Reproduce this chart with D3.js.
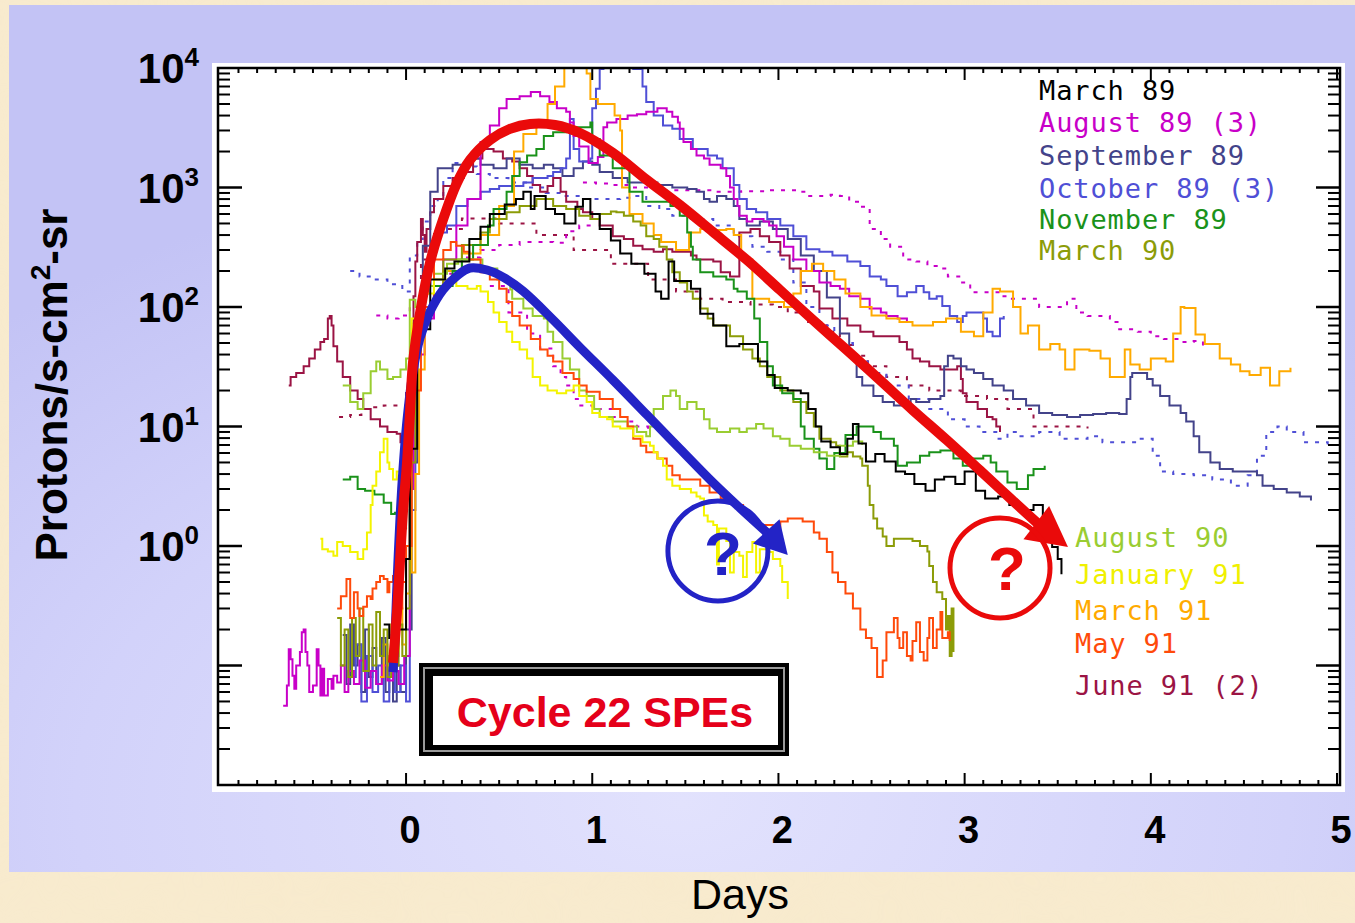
<!DOCTYPE html>
<html><head><meta charset="utf-8">
<script src="https://cdn.jsdelivr.net/npm/d3@7"></script>
<style>html,body{margin:0;padding:0;background:#f6e7c9;overflow:hidden} svg{display:block}</style>
</head><body>
<svg id="chart" width="1355" height="923"></svg>
<script>
// ---------------- DATA ----------------
const xTickLabels = ["0","1","2","3","4","5"];
const yTickExponents = [0,1,2,3,4];
const legendTop = ["March 89","August 89 (3)","September 89","October 89 (3)","November 89","March 90"];
const legendBottom = ["August 90","January 91","March 91","May 91","June 91 (2)"];

const march89 = [[-0.12,0.22],[-0.09,0.17],[-0.04,0.2],[0.0,0.78],[0.02,6.5],[0.06,65],[0.13,170],[0.21,210],[0.26,240],[0.34,370],[0.40,470],[0.45,600],[0.53,720],[0.59,800],[0.63,920],[0.67,660],[0.69,850],[0.75,660],[0.80,600],[0.85,500],[0.91,690],[0.95,800],[0.99,600],[1.04,450],[1.10,360],[1.15,280],[1.21,230],[1.28,190],[1.34,135],[1.37,117],[1.41,240],[1.44,165],[1.53,142],[1.58,88],[1.65,70],[1.72,47],[1.79,49],[1.89,35],[1.94,27],[1.98,21],[2.05,20],[2.12,19],[2.16,14],[2.20,10],[2.23,7.5],[2.28,6.7],[2.33,5.9],[2.37,7.9],[2.40,10.5],[2.43,7.2],[2.47,5.1],[2.52,5.9],[2.57,5.1],[2.63,4.2],[2.68,4.0],[2.73,3.3],[2.79,2.9],[2.84,3.6],[2.89,3.8],[2.95,3.3],[3.0,4.2],[3.06,2.9],[3.11,2.5],[3.18,2.6],[3.24,2.2],[3.30,2.0],[3.37,2.2],[3.42,1.6],[3.45,1.25],[3.47,0.98],[3.50,0.78],[3.52,0.58]];

const august89 = [[-0.66,0.046],[-0.64,0.068],[-0.63,0.137],[-0.62,0.113],[-0.61,0.082],[-0.60,0.064],[-0.59,0.1],[-0.57,0.13],[-0.56,0.19],[-0.55,0.2],[-0.54,0.13],[-0.53,0.1],[-0.52,0.06],[-0.50,0.068],[-0.48,0.137],[-0.47,0.1],[-0.46,0.056],[-0.45,0.094],[-0.44,0.056],[-0.42,0.077],[-0.40,0.064],[-0.39,0.082],[-0.37,0.072],[-0.35,0.1],[-0.33,0.06],[-0.31,0.09],[-0.28,0.07],[-0.25,0.11],[-0.22,0.065],[-0.19,0.09],[-0.16,0.07],[-0.13,0.1],[-0.1,0.075],[-0.07,0.09],[-0.04,0.07],[-0.01,0.12],[0.02,3],[0.04,20],[0.06,40],[0.1,80],[0.15,150],[0.2,250],[0.27,480],[0.33,800],[0.40,2400],[0.45,3300],[0.50,4600],[0.54,5500],[0.61,5800],[0.67,6300],[0.72,5800],[0.77,5200],[0.81,4600],[0.86,4300],[0.88,3500],[0.90,2700],[0.93,2200],[0.98,1600],[1.03,1800],[1.06,3200],[1.08,3500],[1.13,3750],[1.19,4000],[1.24,4100],[1.29,4300],[1.35,4600],[1.40,4300],[1.43,3900],[1.46,3500],[1.47,3100],[1.49,2400],[1.53,2100],[1.56,1850],[1.60,1750],[1.63,1550],[1.69,1450],[1.72,1250],[1.74,1000],[1.76,800],[1.78,700],[1.79,580],[1.83,520],[1.86,545],[1.92,520],[1.95,480],[1.99,390],[2.03,320],[2.08,250],[2.15,200],[2.22,160],[2.28,150],[2.33,142],[2.38,123],[2.44,117],[2.49,97],[2.55,90],[2.58,84],[2.64,80],[2.69,75]];

const september89 = [[-0.34,0.18],[-0.32,0.07],[-0.3,0.22],[-0.28,0.1],[-0.26,0.15],[-0.24,0.06],[-0.22,0.2],[-0.2,0.08],[-0.18,0.14],[-0.16,0.07],[-0.13,0.17],[-0.11,0.06],[-0.09,0.12],[-0.07,0.05],[-0.05,0.1],[-0.03,0.06],[0.0,0.2],[0.03,5],[0.06,100],[0.09,325],[0.13,920],[0.17,1450],[0.25,1550],[0.33,1750],[0.40,1550],[0.47,1450],[0.54,1750],[0.61,1550],[0.68,1450],[0.74,1550],[0.79,1450],[0.84,1250],[0.90,1450],[0.95,1650],[1.0,1550],[1.04,1350],[1.11,1200],[1.19,1100],[1.26,1100],[1.35,1050],[1.43,1000],[1.51,970],[1.56,920],[1.60,800],[1.63,760],[1.67,850],[1.72,800],[1.76,700],[1.79,545],[1.83,480],[1.90,520],[1.97,450],[2.05,370],[2.12,270],[2.19,200],[2.26,120],[2.33,60],[2.38,40],[2.42,26],[2.45,22],[2.51,18],[2.56,16],[2.62,15],[2.67,15],[2.71,17],[2.74,16],[2.81,17],[2.87,18],[2.89,32],[2.91,39],[2.94,37],[2.98,32],[3.01,30],[3.05,28],[3.10,25],[3.15,22],[3.21,20],[3.26,17],[3.33,15],[3.40,13],[3.47,12.5],[3.55,12],[3.62,12.5],[3.69,12.7],[3.76,13],[3.83,12.7],[3.87,17],[3.89,26],[3.90,28],[3.94,28],[3.98,25],[4.01,22],[4.05,18],[4.10,15],[4.16,13],[4.19,11],[4.23,8.3],[4.26,6.1],[4.32,5.0],[4.37,4.4],[4.44,4.2],[4.52,4.2],[4.57,3.9],[4.60,3.2],[4.66,3.0],[4.73,2.8],[4.80,2.6],[4.86,2.4]];

const october89 = [[-0.3,0.08],[-0.27,0.15],[-0.24,0.05],[-0.21,0.12],[-0.18,0.06],[-0.15,0.1],[-0.12,0.05],[-0.09,0.09],[-0.06,0.06],[-0.03,0.1],[0.0,0.05],[0.02,2],[0.05,40],[0.08,150],[0.13,325],[0.17,420],[0.22,480],[0.27,700],[0.33,800],[0.40,920],[0.45,970],[0.50,1030],[0.57,1030],[0.63,1100],[0.68,1200],[0.76,1250],[0.79,1350],[0.83,1450],[0.86,1750],[0.88,3750],[0.90,2100],[0.93,1650],[0.97,1650],[0.99,1750],[1.0,4600],[1.02,6700],[1.04,9800],[1.06,14000],[1.15,15000],[1.21,12000],[1.22,9800],[1.27,7000],[1.29,5200],[1.33,4000],[1.38,3300],[1.43,3100],[1.47,2550],[1.54,2100],[1.62,1850],[1.67,1750],[1.70,1450],[1.76,1050],[1.79,800],[1.83,660],[1.88,620],[1.94,545],[2.01,480],[2.08,390],[2.15,305],[2.22,290],[2.29,270],[2.37,240],[2.44,220],[2.49,180],[2.55,170],[2.58,150],[2.64,123],[2.69,133],[2.74,150],[2.78,133],[2.81,117],[2.85,123],[2.88,102],[2.92,84],[2.96,75],[2.99,84],[3.01,90],[3.07,90],[3.10,80],[3.12,62],[3.15,57],[3.19,80],[3.21,84]];

const november89 = [[-0.34,3.6],[-0.3,3.8],[-0.26,3.0],[-0.22,2.9],[-0.17,2.7],[-0.12,2.3],[-0.08,1.85],[-0.06,1.9],[-0.03,1.4],[0.0,3],[0.03,40],[0.08,100],[0.15,150],[0.25,200],[0.30,250],[0.36,330],[0.44,480],[0.47,660],[0.54,920],[0.57,1250],[0.61,1630],[0.65,1850],[0.70,2100],[0.74,2700],[0.79,2900],[0.86,3200],[0.90,3200],[0.99,3500],[1.0,2550],[1.04,1850],[1.11,1450],[1.20,920],[1.27,760],[1.35,760],[1.42,700],[1.47,580],[1.51,420],[1.53,320],[1.54,250],[1.58,195],[1.65,180],[1.72,170],[1.76,142],[1.78,135],[1.83,117],[1.87,80],[1.90,51],[1.94,32],[1.97,22],[2.02,19],[2.08,17],[2.12,10],[2.14,7.9],[2.19,6.5],[2.22,5.4],[2.26,4.4],[2.30,6],[2.36,8.5],[2.42,10],[2.45,10],[2.51,9],[2.55,7.9],[2.62,6.9],[2.64,4.7],[2.69,5.0],[2.76,5.7],[2.81,6.1],[2.87,6.3],[2.94,5.4],[2.99,4.7],[3.05,5.4],[3.10,5.7],[3.14,5.0],[3.17,4.2],[3.23,3.4],[3.28,3.0],[3.31,3.0],[3.34,3.9],[3.37,4.4],[3.43,4.7]];

const march90 = [[-0.37,0.25],[-0.35,0.1],[-0.33,0.2],[-0.31,0.08],[-0.29,0.25],[-0.27,0.12],[-0.25,0.3],[-0.23,0.09],[-0.2,0.22],[-0.18,0.1],[-0.16,0.28],[-0.14,0.12],[-0.12,0.2],[-0.1,0.08],[-0.08,0.18],[-0.06,0.1],[-0.04,0.22],[-0.02,0.12],[0.0,0.3],[0.02,5],[0.05,60],[0.1,150],[0.2,250],[0.3,330],[0.40,420],[0.45,545],[0.54,620],[0.61,700],[0.70,800],[0.79,700],[0.86,660],[0.93,580],[0.99,545],[1.04,600],[1.10,630],[1.13,620],[1.17,580],[1.22,520],[1.26,480],[1.29,390],[1.33,370],[1.36,320],[1.40,250],[1.43,195],[1.47,160],[1.51,135],[1.54,117],[1.58,97],[1.62,80],[1.65,70],[1.74,57],[1.81,44],[1.86,37],[1.90,32],[1.94,26],[2.01,20],[2.08,16],[2.15,13],[2.19,10],[2.22,7.9],[2.28,7.4],[2.31,6.9],[2.33,5.6],[2.37,6.1],[2.40,5.6],[2.44,5.4],[2.45,4.7],[2.48,3.2],[2.49,2.2],[2.51,1.7],[2.53,1.4],[2.56,1.2],[2.58,1.0],[2.62,1.15],[2.67,1.15],[2.72,1.1],[2.76,1.0],[2.80,0.9],[2.81,0.68],[2.83,0.5],[2.85,0.41],[2.88,0.36],[2.90,0.2],[2.91,0.26],[2.92,0.12],[2.93,0.3],[2.94,0.13]];

const august90 = [[-0.34,22],[-0.30,16],[-0.26,14],[-0.23,19],[-0.19,29],[-0.16,35],[-0.14,30],[-0.10,25],[-0.07,26],[-0.03,30],[0.0,37],[0.02,115],[0.05,100],[0.1,150],[0.15,190],[0.22,230],[0.28,250],[0.34,250],[0.41,210],[0.49,170],[0.56,140],[0.57,117],[0.63,97],[0.68,84],[0.74,80],[0.76,62],[0.79,51],[0.84,37],[0.88,30],[0.93,20],[0.97,18],[1.01,14],[1.04,12],[1.11,11],[1.19,10],[1.24,9],[1.29,8.3],[1.31,10],[1.33,14],[1.38,18],[1.42,20],[1.45,18],[1.47,14],[1.51,16],[1.56,14],[1.60,11.5],[1.63,9.6],[1.67,9],[1.74,9.6],[1.79,9],[1.83,9.6],[1.88,10.5],[1.92,9.6],[1.97,8.3],[2.01,7.9],[2.06,6.9],[2.12,6.5],[2.19,6.1],[2.26,5.7],[2.33,6.9],[2.40,7.5],[2.45,7]];

const january91 = [[-0.46,1.15],[-0.45,0.94],[-0.42,0.9],[-0.39,0.83],[-0.37,1.08],[-0.34,1.0],[-0.30,0.89],[-0.26,0.78],[-0.23,0.94],[-0.21,1.3],[-0.19,2.2],[-0.18,3.2],[-0.16,4.2],[-0.14,6.1],[-0.12,7.9],[-0.10,5.0],[-0.09,4.4],[-0.07,3.6],[-0.05,4.2],[-0.02,2.5],[0.0,17],[0.03,80],[0.08,130],[0.15,170],[0.22,160],[0.27,150],[0.33,142],[0.38,150],[0.40,135],[0.44,110],[0.47,90],[0.50,75],[0.54,62],[0.57,51],[0.61,44],[0.65,37],[0.68,26],[0.72,22],[0.76,20],[0.81,19],[0.86,20],[0.90,22],[0.93,18],[0.97,16],[1.0,13],[1.04,12],[1.08,11.5],[1.11,10],[1.15,9.6],[1.19,9.6],[1.22,8.3],[1.27,7.4],[1.31,6.9],[1.33,6.1],[1.35,5.4],[1.38,4.7],[1.40,3.6],[1.43,3.2],[1.47,3.0],[1.53,2.8],[1.56,2.6],[1.58,2.5],[1.60,1.8],[1.62,1.6],[1.65,1.5],[1.67,0.7],[1.68,1.4],[1.72,1.1],[1.74,0.6],[1.76,0.89],[1.79,0.83],[1.81,0.55],[1.83,0.89],[1.86,1.08],[1.88,0.6],[1.90,0.94],[1.94,0.89],[1.97,0.78],[2.01,0.68],[2.02,0.5],[2.05,0.36]];

const march91 = [[-0.14,0.08],[-0.12,0.15],[-0.1,0.1],[-0.08,0.22],[-0.06,0.12],[-0.04,0.3],[-0.02,0.15],[0.0,0.4],[0.02,3],[0.03,0.6],[0.05,4],[0.07,30],[0.1,100],[0.15,150],[0.2,200],[0.3,280],[0.4,400],[0.5,700],[0.58,2000],[0.63,2800],[0.70,3500],[0.76,5000],[0.80,7000],[0.85,12000],[0.95,15000],[0.97,9000],[0.99,5500],[1.03,5000],[1.08,5000],[1.12,4000],[1.15,3000],[1.16,1000],[1.2,600],[1.27,500],[1.33,400],[1.37,350],[1.45,300],[1.52,420],[1.58,450],[1.65,440],[1.72,450],[1.76,400],[1.80,250],[1.86,117],[1.95,110],[2.03,100],[2.08,130],[2.12,200],[2.18,230],[2.24,200],[2.3,170],[2.36,130],[2.44,100],[2.5,85],[2.58,80],[2.65,75],[2.72,70],[2.83,75],[2.90,80],[2.98,62],[3.05,57],[3.10,90],[3.15,142],[3.19,135],[3.26,100],[3.30,60],[3.34,70],[3.40,44],[3.46,49],[3.51,44],[3.54,30],[3.59,44],[3.67,43],[3.73,37],[3.78,26],[3.86,44],[3.89,33],[3.94,30],[4.0,37],[4.08,35],[4.12,60],[4.16,100],[4.18,98],[4.24,59],[4.29,49],[4.37,37],[4.43,33],[4.48,29],[4.53,27],[4.59,31],[4.64,22],[4.69,29],[4.75,31]];

const may91 = [[-0.37,0.3],[-0.35,0.38],[-0.32,0.53],[-0.30,0.25],[-0.28,0.41],[-0.26,0.30],[-0.25,0.26],[-0.23,0.31],[-0.21,0.38],[-0.19,0.36],[-0.18,0.44],[-0.16,0.5],[-0.14,0.56],[-0.12,0.53],[-0.10,0.41],[-0.09,0.5],[-0.07,0.56],[-0.04,0.3],[-0.02,0.5],[0.0,1],[0.03,20],[0.08,100],[0.15,250],[0.2,300],[0.24,350],[0.27,325],[0.31,290],[0.34,250],[0.40,195],[0.45,170],[0.50,142],[0.54,110],[0.57,84],[0.61,70],[0.67,54],[0.72,44],[0.76,39],[0.79,35],[0.84,28],[0.90,25],[0.93,22],[0.97,19.5],[1.04,17],[1.11,14],[1.15,12],[1.19,10],[1.22,7.9],[1.26,6.9],[1.29,6.1],[1.35,5.4],[1.40,4.7],[1.43,3.9],[1.47,3.6],[1.53,3.6],[1.58,3.2],[1.63,2.8],[1.69,2.5],[1.76,2.2],[1.81,1.9],[1.85,1.6],[1.90,1.5],[1.94,1.5],[1.97,1.4],[2.01,1.6],[2.05,1.7],[2.10,1.7],[2.13,1.6],[2.19,1.3],[2.22,1.15],[2.26,0.89],[2.29,0.6],[2.32,0.5],[2.36,0.4],[2.40,0.3],[2.44,0.2],[2.47,0.17],[2.50,0.14],[2.53,0.08],[2.55,0.08],[2.56,0.11],[2.58,0.19],[2.62,0.25],[2.64,0.17],[2.65,0.14],[2.67,0.19],[2.69,0.12],[2.71,0.11],[2.72,0.16],[2.74,0.23],[2.76,0.13],[2.78,0.11],[2.80,0.17],[2.81,0.25],[2.83,0.14],[2.85,0.2],[2.87,0.28],[2.88,0.17],[2.91,0.19],[2.92,0.16]];

const june91 = [[-0.63,22],[-0.62,26],[-0.59,28],[-0.55,32],[-0.52,37],[-0.49,44],[-0.46,51],[-0.44,54],[-0.42,80],[-0.41,84],[-0.40,70],[-0.39,47],[-0.37,35],[-0.34,26],[-0.30,20],[-0.26,17],[-0.23,14],[-0.19,11.5],[-0.14,10],[-0.10,9],[-0.05,8.7],[-0.03,7.4],[0.0,8],[0.02,30],[0.04,123],[0.05,240],[0.06,350],[0.08,545],[0.09,400],[0.10,290],[0.11,450],[0.13,620],[0.15,800],[0.20,1030],[0.25,1200],[0.31,1350],[0.36,1750],[0.41,2100],[0.47,2000],[0.52,1750],[0.57,1650],[0.61,1450],[0.65,1250],[0.68,1050],[0.72,920],[0.76,1030],[0.79,1200],[0.83,920],[0.86,760],[0.92,660],[0.95,620],[1.0,545],[1.04,480],[1.11,390],[1.17,370],[1.22,325],[1.27,305],[1.33,290],[1.38,305],[1.43,290],[1.47,290],[1.53,270],[1.56,250],[1.62,250],[1.65,240],[1.69,195],[1.74,180],[1.79,420],[1.85,450],[1.90,390],[1.95,350],[2.01,270],[2.06,210],[2.12,150],[2.19,135],[2.22,97],[2.29,80],[2.37,70],[2.44,62],[2.51,57],[2.58,57],[2.65,51],[2.69,44],[2.72,37],[2.76,35],[2.81,32],[2.87,30],[2.91,30],[2.96,32],[2.98,25],[2.99,19],[3.01,16],[3.07,14],[3.12,12],[3.15,11.5],[3.17,10],[3.19,9]];

// dotted companions (other events of the same months)
const june91b = [[-0.36,12],[-0.3,12.5],[-0.24,14],[-0.18,14.5],[-0.12,15],[-0.06,15],[0.0,20],[0.04,80],[0.08,250],[0.15,450],[0.3,550],[0.5,500],[0.7,400],[0.9,300],[1.1,230],[1.3,170],[1.45,135],[1.58,117],[1.70,110],[1.85,105],[1.97,100],[2.05,90],[2.15,75],[2.26,62],[2.33,48],[2.40,39],[2.48,32],[2.58,26],[2.69,22],[2.81,20],[2.98,18],[3.12,17],[3.23,14],[3.37,10],[3.47,10],[3.58,10],[3.66,9.6]];
const august89b = [[0.95,1100],[1.02,1080],[1.10,1050],[1.2,1000],[1.35,950],[1.5,950],[1.65,920],[1.8,930],[1.95,950],[2.10,920],[2.15,850],[2.22,850],[2.28,870],[2.33,850],[2.38,760],[2.44,690],[2.49,450],[2.55,370],[2.60,320],[2.67,250],[2.74,240],[2.80,220],[2.85,210],[2.91,180],[2.98,160],[3.03,133],[3.08,133],[3.14,133],[3.19,123],[3.24,117],[3.31,117],[3.40,100],[3.47,100],[3.55,117],[3.60,90],[3.66,84],[3.71,84],[3.78,75],[3.83,65],[3.93,62],[4.0,57],[4.07,54],[4.16,51],[4.23,52],[4.28,47]];
const august89c = [[-0.16,85],[-0.10,80],[-0.04,85],[0.02,100],[0.1,130],[0.2,190],[0.3,260],[0.4,300],[0.5,330],[0.61,350],[0.7,350],[0.79,345],[0.86,430],[0.93,480],[1.0,470]];
const august89d = [[0.45,150],[0.55,90],[0.65,60],[0.72,45],[0.79,32],[0.83,26],[0.86,22],[0.90,17],[0.93,15],[1.0,14],[1.11,12],[1.19,11],[1.24,10],[1.3,9.5]];
const october89b = [[-0.3,200],[-0.25,180],[-0.18,170],[-0.10,155],[-0.05,150],[-0.02,135],[0.02,270],[0.06,370],[0.09,520],[0.13,700],[0.17,800],[0.20,1200],[0.25,1600],[0.30,1500],[0.38,1300],[0.45,1200],[0.55,1100],[0.65,1000],[0.75,900],[0.85,850],[0.95,800],[1.05,800],[1.15,820],[1.22,850],[1.29,700],[1.36,660],[1.43,580],[1.53,545],[1.65,480],[1.76,390],[1.86,320],[1.94,290],[2.01,250],[2.08,160],[2.15,100],[2.22,70],[2.30,50],[2.40,35],[2.48,28],[2.58,22],[2.70,17],[2.81,14],[2.91,11.5],[3.0,10],[3.08,9],[3.17,7.9],[3.23,9],[3.30,8.3],[3.40,9],[3.51,7.9],[3.66,8.3],[3.74,7.4],[3.83,7.4],[3.93,7.9],[4.01,5.7],[4.05,4.2],[4.12,4.0],[4.23,3.9],[4.33,3.6],[4.43,3.2],[4.52,3.9],[4.57,5.7],[4.62,9],[4.68,10],[4.73,9],[4.82,7.4],[4.87,7.4],[4.95,7.0]];

// annotation trend arrows (days, flux)
const redTrend = [[-0.07,0.105],[-0.049,0.275],[-0.033,0.72],[-0.017,1.89],[0.005,4.95],[0.021,13],[0.037,34],[0.075,89],[0.128,233],[0.198,535],[0.273,1090],[0.343,1700],[0.451,2500],[0.558,3090],[0.666,3400],[0.80,3335],[0.934,2860],[1.111,1950],[1.294,1155],[1.471,714],[1.648,425],[1.831,247],[2.008,139],[2.185,78],[2.367,43.6],[2.545,24.5],[2.722,13.7],[2.904,7.7],[3.082,4.3],[3.243,2.52],[3.394,1.53]];
const redTip = [3.555,0.98];
const blueTrend = [[-0.07,0.088],[-0.06,0.163],[-0.049,0.47],[-0.033,1.65],[-0.017,4.3],[0.005,11.3],[0.037,28.6],[0.075,55],[0.128,91],[0.198,139],[0.273,182],[0.343,212],[0.435,204],[0.521,178],[0.628,136],[0.79,78],[0.934,46],[1.111,24.5],[1.294,12.5],[1.471,6.5],[1.648,3.4],[1.793,2.08],[1.943,1.28]];
const blueTip = [2.05,0.84];
const blueQuery = [1.675,0.91];
const redQuery = [3.19,0.655];

// ---------------- STYLE ----------------
const C = {
  black:"#000000", magenta:"#c800c8", navy:"#43438a", blue:"#4f4fd6", green:"#1a921a",
  olive:"#8c9c08", lime:"#9acd32", yellow:"#f4f400", orange:"#ffaa00", redorange:"#ff4a0a", maroon:"#9b1444"
};
const legendTopColors = [C.black, C.magenta, C.navy, C.blue, C.green, C.olive];
const legendBottomColors = [C.lime, "#f0f000", C.orange, C.redorange, C.maroon];

const solidSeries = [
  [june91, C.maroon],[september89, C.navy],[october89, C.blue],[august89, C.magenta],[march91, C.orange],
  [march90, C.olive],[november89, C.green],[august90, C.lime],[may91, C.redorange],[january91, C.yellow],[march89, C.black]
];
const dottedSeries = [[june91b, C.maroon],[august89b, C.magenta],[august89c, C.magenta],[august89d, C.magenta],[october89b, C.blue]];

// ---------------- DRAW ----------------
const svg = d3.select("#chart");
const defs = svg.append("defs");

const rg = defs.append("radialGradient").attr("id","panelGrad").attr("cx","0.5").attr("cy","0.92").attr("r","0.75");
rg.append("stop").attr("offset","0").attr("stop-color","#e2e2fd");
rg.append("stop").attr("offset","0.6").attr("stop-color","#d2d2fa");
rg.append("stop").attr("offset","1").attr("stop-color","#c3c3f5");

const filt = defs.append("filter").attr("id","paper").attr("x","0").attr("y","0").attr("width","1").attr("height","1");
filt.append("feTurbulence").attr("type","fractalNoise").attr("baseFrequency","0.012").attr("numOctaves","3").attr("seed","4");
filt.append("feColorMatrix").attr("values","0 0 0 0 0.93  0 0 0 0 0.80  0 0 0 0 0.55  0 0 0 0.45 -0.05");

svg.append("rect").attr("width",1355).attr("height",923).attr("fill","#f8ebcf");
svg.append("rect").attr("width",1355).attr("height",923).attr("filter","url(#paper)").attr("opacity",0.55);

svg.append("rect").attr("x",9).attr("y",5).attr("width",1346).attr("height",867).attr("fill","url(#panelGrad)");

const x = d3.scaleLinear().domain([-1.01, 5.016]).range([218, 1340]);
const y = d3.scaleLog().domain([0.01, 10000]).range([785, 68]);
const [X0,X1] = x.range(); const [Y1,Y0] = y.range();

svg.append("rect").attr("x",X0-6).attr("y",Y0-5).attr("width",X1-X0+11).attr("height",Y1-Y0+12).attr("fill","#ffffff");

defs.append("clipPath").attr("id","plotClip").append("rect").attr("x",X0+1).attr("y",Y0+1).attr("width",X1-X0-2).attr("height",Y1-Y0-2);

const plot = svg.append("g").attr("clip-path","url(#plotClip)");
const line = d3.line().x(d=>x(d[0])).y(d=>y(d[1])).curve(d3.curveStepAfter);

dottedSeries.forEach(([data,col])=>{
  plot.append("path").attr("d", line(data)).attr("fill","none").attr("stroke",col)
    .attr("stroke-width",2).attr("stroke-dasharray","4,7");
});
solidSeries.forEach(([data,col])=>{
  plot.append("path").attr("d", line(data)).attr("fill","none").attr("stroke",col)
    .attr("stroke-width",2).attr("stroke-linejoin","miter");
});

// trend arrows
function trendArrow(pts, tip, color, width, headLen, headHalf){
  const P = pts.map(d=>[x(d[0]), y(d[1])]);
  const T = [x(tip[0]), y(tip[1])];
  const last = P[P.length-1];
  const dx=T[0]-last[0], dy=T[1]-last[1], L=Math.hypot(dx,dy);
  const ux=dx/L, uy=dy/L;
  const base=[T[0]-ux*headLen, T[1]-uy*headLen];
  const path = d3.line().curve(d3.curveCatmullRom.alpha(0.5))([...P.slice(0,-1), [base[0]+ux*4, base[1]+uy*4]]);
  plot.append("path").attr("d",path).attr("fill","none").attr("stroke",color).attr("stroke-width",width).attr("stroke-linecap","butt");
  const pts3=[T,[base[0]-uy*headHalf, base[1]+ux*headHalf],[base[0]+uy*headHalf, base[1]-ux*headHalf]];
  svg.append("polygon").attr("points", pts3.map(p=>p.join(",")).join(" ")).attr("fill",color);
}
trendArrow(blueTrend, blueTip, "#2323c6", 9, 32, 18);
trendArrow(redTrend, redTip, "#ea0a0a", 10, 40, 21);

// circles with question marks
svg.append("circle").attr("cx",x(blueQuery[0])).attr("cy",y(blueQuery[1])).attr("r",50)
  .attr("fill","none").attr("stroke","#2323c6").attr("stroke-width",5);
svg.append("text").attr("x",x(blueQuery[0])+5).attr("y",y(blueQuery[1])+24).attr("text-anchor","middle")
  .attr("font-family","Liberation Sans, Arial, sans-serif").attr("font-weight","bold").attr("font-size",62)
  .attr("fill","#2323c6").text("?");
svg.append("circle").attr("cx",x(redQuery[0])).attr("cy",y(redQuery[1])).attr("r",50)
  .attr("fill","none").attr("stroke","#ea0a0a").attr("stroke-width",5);
svg.append("text").attr("x",x(redQuery[0])+7).attr("y",y(redQuery[1])+22).attr("text-anchor","middle")
  .attr("font-family","Liberation Sans, Arial, sans-serif").attr("font-weight","bold").attr("font-size",62)
  .attr("fill","#ea0a0a").text("?");

// frame
const axes = svg.append("g");
axes.append("rect").attr("x",X0).attr("y",Y0).attr("width",X1-X0).attr("height",Y1-Y0)
  .attr("fill","none").attr("stroke","#000").attr("stroke-width",2.5);

// x ticks (minor every 0.1 day)
d3.range(-10, 51).forEach(i=>{
  const v=i/10, px=x(v); if(px<X0+2||px>X1-2) return;
  const major = (i%10===0);
  const len = major?12:5;
  axes.append("line").attr("x1",px).attr("x2",px).attr("y1",Y1).attr("y2",Y1-len).attr("stroke","#000").attr("stroke-width",2);
  axes.append("line").attr("x1",px).attr("x2",px).attr("y1",Y0).attr("y2",Y0+len).attr("stroke","#000").attr("stroke-width",2);
});
// y ticks (log)
for(let e=-2;e<4;e++){
  for(let m=1;m<10;m++){
    const v=m*Math.pow(10,e), py=y(v);
    const major=(m===1); const len=major?24:12;
    if(e===-2&&m===1) continue;
    axes.append("line").attr("x1",X0).attr("x2",X0+len).attr("y1",py).attr("y2",py).attr("stroke","#000").attr("stroke-width",major?2.5:2);
    axes.append("line").attr("x1",X1).attr("x2",X1-len).attr("y1",py).attr("y2",py).attr("stroke","#000").attr("stroke-width",major?2.5:2);
  }
}

// tick labels
const FONT="Liberation Sans, Arial, Helvetica, sans-serif";
xTickLabels.forEach(t=>{
  svg.append("text").attr("x",x(+t)+4).attr("y",843).attr("text-anchor","middle")
    .attr("font-family",FONT).attr("font-weight","bold").attr("font-size",38).attr("fill","#000").text(t);
});
yTickExponents.forEach(e=>{
  const t=svg.append("text").attr("x",199).attr("y",y(Math.pow(10,e))+15).attr("text-anchor","end")
    .attr("font-family",FONT).attr("font-weight","bold").attr("font-size",42).attr("fill","#000");
  t.append("tspan").text("10");
  t.append("tspan").attr("dy",-17).attr("font-size",26).text(String(e));
});

// axis titles
const yt = svg.append("text").attr("transform","translate(67,385) rotate(-90)").attr("text-anchor","middle")
  .attr("font-family",FONT).attr("font-weight","bold").attr("font-size",44).attr("fill","#000");
yt.append("tspan").text("Protons/s-cm");
yt.append("tspan").attr("dy",-17).attr("font-size",28).text("2");
yt.append("tspan").attr("dy",17).text("-sr");

svg.append("text").attr("x",740).attr("y",909).attr("text-anchor","middle")
  .attr("font-family",FONT).attr("font-size",43).attr("fill","#000").text("Days");

// legends
const LFONT="DejaVu Sans Mono, Liberation Mono, monospace";
const topBaselines=[100,132,165,198,229,260];
legendTop.forEach((s,i)=>{
  svg.append("text").attr("x",1039).attr("y",topBaselines[i]).attr("font-family",LFONT).attr("font-size",27)
    .attr("letter-spacing",0.9).attr("fill",legendTopColors[i]).text(s);
});
const botBaselines=[547,584,620,653,695];
legendBottom.forEach((s,i)=>{
  svg.append("text").attr("x",1075).attr("y",botBaselines[i]).attr("font-family",LFONT).attr("font-size",27)
    .attr("letter-spacing",0.9).attr("fill",legendBottomColors[i]).text(s);
});

// Cycle 22 box
const bx = svg.append("g");
bx.append("rect").attr("x",419).attr("y",663).attr("width",370).attr("height",93).attr("fill","#000");
bx.append("rect").attr("x",423).attr("y",667).attr("width",362).attr("height",85).attr("fill","#9a9a9a");
bx.append("rect").attr("x",425).attr("y",669).attr("width",358).attr("height",81).attr("fill","#000");
bx.append("rect").attr("x",433).attr("y",676).attr("width",345).attr("height",69).attr("fill","#fff");
bx.append("text").attr("x",605).attr("y",727).attr("text-anchor","middle").attr("font-family",FONT)
  .attr("font-weight","bold").attr("font-size",43).attr("fill","#e5001a").text("Cycle 22 SPEs");
</script>
</body></html>
